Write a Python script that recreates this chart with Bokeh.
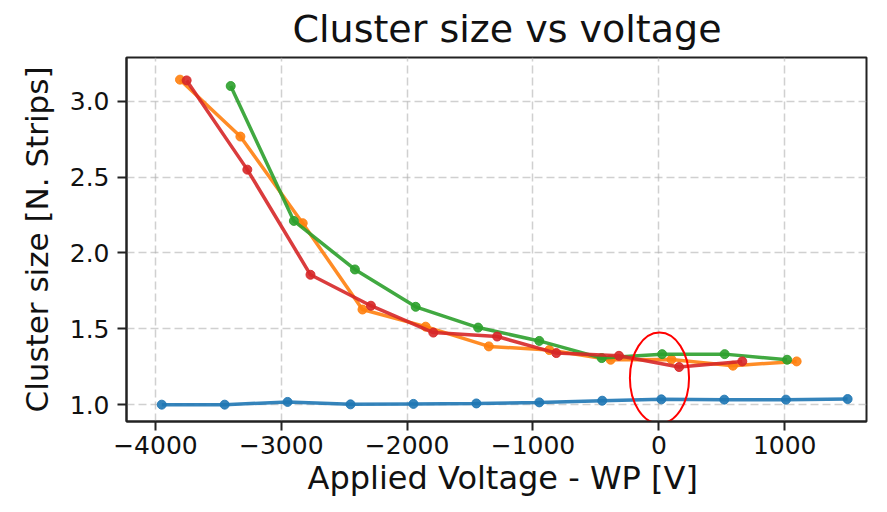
from bokeh.plotting import figure
from bokeh.models import FixedTicker, CustomJSTickFormatter, Range1d, Title
from bokeh.embed import file_html
from bokeh.resources import INLINE

# ---- data ----
blue_x = [-3950, -3450, -2950, -2450, -1950, -1450, -950, -450, 20, 520, 1010, 1500]
blue_y = [1.0, 1.0, 1.018, 1.002, 1.005, 1.008, 1.015, 1.026, 1.035, 1.033, 1.033, 1.037]

orange_x = [-3805, -3325, -2830, -2355, -1853, -1351, -870, -383, 100, 589, 1095]
orange_y = [3.142, 2.767, 2.196, 1.627, 1.514, 1.384, 1.36, 1.296, 1.298, 1.257, 1.285]

green_x = [-3402, -2900, -2415, -1932, -1436, -950, -454, 26, 523, 1019]
green_y = [3.10, 2.211, 1.891, 1.645, 1.508, 1.42, 1.307, 1.333, 1.333, 1.296]

red_x = [-3752, -3270, -2768, -2288, -1792, -1285, -815, -317, 161, 663]
red_y = [3.137, 2.549, 1.856, 1.652, 1.475, 1.449, 1.34, 1.322, 1.248, 1.285]

x_ticks = [-4000, -3000, -2000, -1000, 0, 1000]
y_ticks = [1.0, 1.5, 2.0, 2.5, 3.0]

title_text = "Cluster size vs voltage"
x_label_text = "Applied Voltage - WP [V]"
y_label_text = "Cluster size [N. Strips]"

# highlight ellipse (data units)
ellipse_x = [5]
ellipse_y = [1.175]
ellipse_w = [470]
ellipse_h = [0.60]

series = [
    (blue_x, blue_y, "#1f77b4"),
    (orange_x, orange_y, "#ff7f0e"),
    (green_x, green_y, "#2ca02c"),
    (red_x, red_y, "#d62728"),
]

FONT = "DejaVu Sans"
TXT = "#111111"

p = figure(
    width=871, height=496,
    output_backend="svg", toolbar_location=None,
    x_range=Range1d(-4230, 1650), y_range=Range1d(0.889, 3.288),
    min_border_left=126, min_border_right=5, min_border_top=57, min_border_bottom=72,
)
p.background_fill_color = "white"
p.border_fill_color = "white"
p.outline_line_color = "#222222"
p.outline_line_width = 2

p.title = Title(text=title_text, align="left", offset=166, vertical_align="top",
                text_font=FONT, text_font_size="38px", text_font_style="normal",
                text_color=TXT)

for ax in (p.xaxis, p.yaxis):
    ax.axis_line_color = "#222222"
    ax.axis_line_width = 2
    ax.major_tick_line_color = "#222222"
    ax.major_tick_line_width = 2
    ax.major_tick_out = 9
    ax.major_tick_in = 0
    ax.minor_tick_line_color = None
    ax.major_label_text_font = FONT
    ax.major_label_text_font_size = "25px"
    ax.major_label_text_color = TXT
    ax.axis_label_text_font = FONT
    ax.axis_label_text_font_size = "31px"
    ax.axis_label_text_font_style = "normal"
    ax.axis_label_text_color = TXT

p.xaxis.ticker = FixedTicker(ticks=x_ticks)
p.yaxis.ticker = FixedTicker(ticks=y_ticks)
p.xaxis.formatter = CustomJSTickFormatter(code="return tick < 0 ? '\\u2212' + Math.abs(tick) : String(tick);")
p.yaxis.formatter = CustomJSTickFormatter(code="return tick.toFixed(1);")
p.yaxis.axis_label = y_label_text
p.xaxis.major_label_standoff = 5
p.yaxis.major_label_standoff = 8
p.yaxis.axis_label_standoff = 12

# x-axis label as a title placed below the axis, aligned like the reference
p.add_layout(Title(text=x_label_text, align="left", offset=181, standoff=0,
                   text_font=FONT, text_font_size="32px", text_font_style="normal",
                   text_color=TXT), "below")

for g in (p.xgrid, p.ygrid):
    g.grid_line_color = "#b0b0b0"
    g.grid_line_alpha = 0.6
    g.grid_line_width = 1.5
    g.grid_line_dash = "8 4"

for xs, ys, c in series:
    p.line(xs, ys, line_color=c, line_width=3.5, line_alpha=0.9)
    p.scatter(xs, ys, size=9, fill_color=c, line_color=c, fill_alpha=0.9, line_alpha=0.9)

p.ellipse(x=ellipse_x, y=ellipse_y, width=ellipse_w, height=ellipse_h,
          fill_color=None, line_color="red", line_width=2)

open("out.html", "w").write(file_html(p, INLINE))
